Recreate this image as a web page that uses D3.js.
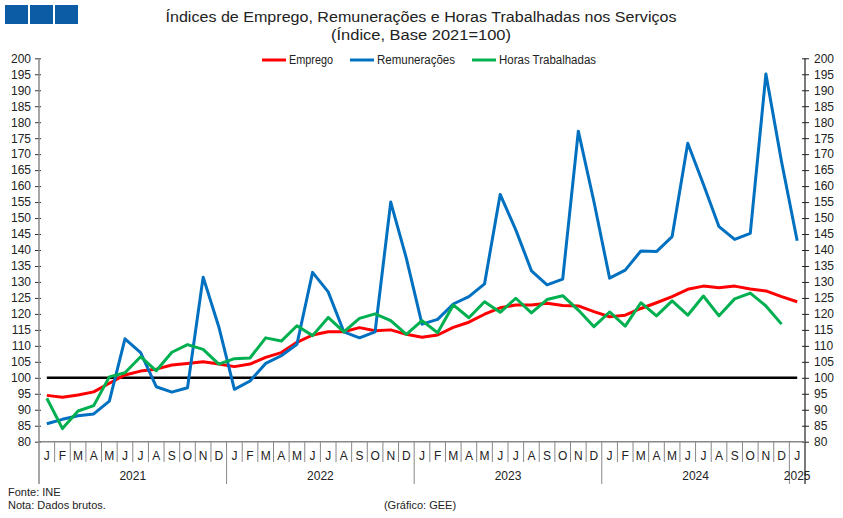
<!DOCTYPE html>
<html><head><meta charset="utf-8">
<script src="https://cdn.jsdelivr.net/npm/d3@7"></script>
<style>
body{margin:0;background:#fff;}
svg{display:block;font-family:"Liberation Sans",Arial,sans-serif;}
</style></head>
<body><svg id="c" width="843" height="518"></svg>
<script>
const monthLabels = ["J","F","M","A","M","J","J","A","S","O","N","D"];
const years = ["2021","2022","2023","2024","2025"];
const yTicks = d3.range(80, 201, 5);

const emprego = [94.5,93.9,94.6,95.6,98.3,100.9,102.1,102.7,104.0,104.5,105.0,104.3,
  103.5,104.3,106.4,107.9,111.1,113.4,114.4,114.4,115.7,114.7,115.0,113.6,
  112.7,113.4,115.8,117.4,119.9,121.9,122.8,122.8,123.3,122.6,122.5,120.7,
  119.1,119.6,121.7,123.5,125.4,127.7,128.7,128.2,128.7,127.8,127.2,125.4,
  123.8];
const remuneracoes = [85.6,87.0,88.1,88.7,92.7,112.2,107.9,97.2,95.5,96.9,131.5,116.0,
  96.4,99.0,104.5,106.9,110.5,133.0,126.9,114.4,112.5,114.4,155.0,137.4,
  116.8,118.3,123.1,125.4,129.4,157.4,146.3,133.5,129.1,130.9,177.2,155.1,
  131.2,133.7,139.7,139.5,144.2,173.4,160.6,147.3,143.3,145.2,195.1,167.6,
  142.9];
const horas = [93.6,84.1,89.6,91.3,100.3,101.6,106.6,102.2,108.0,110.4,108.9,104.3,
  106.0,106.2,112.5,111.5,116.3,113.2,118.9,114.4,118.6,120.0,117.9,113.6,
  117.9,114.1,122.8,118.8,123.8,120.5,124.9,120.3,124.5,125.7,121.2,116.0,
  120.6,116.2,123.5,119.4,124.1,119.6,125.6,119.4,124.7,126.5,122.5,116.8];

const series = [
  {name:"Emprego", values:emprego, color:"#ff0000"},
  {name:"Remunerações", values:remuneracoes, color:"#0070c0"},
  {name:"Horas Trabalhadas", values:horas, color:"#00b050"}
];

const nMonths = remuneracoes.length;
const svg = d3.select("#c");
const L = 39, R = 805, T = 58.3, B = 441.7;

const x = d3.scaleBand().domain(d3.range(nMonths)).range([L, R]).padding(0);
const y = d3.scaleLinear().domain([80, 200]).range([B, T]);
const cx = i => x(i) + x.bandwidth()/2;

// logo squares
svg.selectAll("rect.logo").data([0,1,2]).join("rect")
  .attr("x", d => 5 + d*25).attr("y", 5).attr("width", 23).attr("height", 19)
  .attr("fill", "#0b5ca5");

// title
svg.append("text").attr("x", 421).attr("y", 22).attr("text-anchor","middle")
  .attr("font-size", 15.5).attr("fill","#222")
  .attr("textLength", 511).attr("lengthAdjust","spacingAndGlyphs")
  .text("Índices de Emprego, Remunerações e Horas Trabalhadas nos Serviços");
svg.append("text").attr("x", 421).attr("y", 40).attr("text-anchor","middle")
  .attr("font-size", 15.5).attr("fill","#222")
  .attr("textLength", 180).attr("lengthAdjust","spacingAndGlyphs")
  .text("(Índice, Base 2021=100)");

// legend
const legX = [262, 350, 472];
const legW = [44, 78, 97];
const lg = svg.append("g");
series.forEach((s, k) => {
  lg.append("line").attr("x1", legX[k]).attr("x2", legX[k]+24).attr("y1", 60).attr("y2", 60)
    .attr("stroke", s.color).attr("stroke-width", 3);
  lg.append("text").attr("x", legX[k]+27).attr("y", 64).attr("font-size", 12).attr("fill","#222")
    .attr("textLength", legW[k]).attr("lengthAdjust","spacingAndGlyphs")
    .text(s.name);
});

// left axis
const gl = svg.append("g").attr("transform", `translate(${L},0)`)
  .call(d3.axisLeft(y).tickValues(yTicks).tickSize(4).tickPadding(4));
gl.select(".domain").remove();
gl.selectAll(".tick line").attr("x1", 2).attr("stroke","#333");
gl.selectAll(".tick text").attr("font-size", 12).attr("fill","#222")
  .attr("font-family",'"Liberation Sans",Arial,sans-serif');
svg.append("line").attr("x1", L).attr("x2", L).attr("y1", T).attr("y2", 484)
  .attr("stroke", "#888").attr("stroke-width", 1.5);

// right axis
const gr = svg.append("g").attr("transform", `translate(${R},0)`)
  .call(d3.axisRight(y).tickValues(yTicks).tickSize(4).tickPadding(5));
gr.select(".domain").remove();
gr.selectAll(".tick line").attr("x1", -3).attr("stroke","#222");
gr.selectAll(".tick text").attr("font-size", 12).attr("fill","#222")
  .attr("font-family",'"Liberation Sans",Arial,sans-serif');
svg.append("line").attr("x1", R).attr("x2", R).attr("y1", T).attr("y2", 484)
  .attr("stroke", "#222").attr("stroke-width", 1.2);

// bottom axis line
svg.append("line").attr("x1", L).attr("x2", R).attr("y1", B).attr("y2", B)
  .attr("stroke", "#888").attr("stroke-width", 1.5);

// month separators & labels
const months = d3.range(nMonths);
svg.selectAll("line.msep").data(months.slice(1)).join("line")
  .attr("x1", d => x(d)).attr("x2", d => x(d))
  .attr("y1", B).attr("y2", d => d % 12 === 0 ? 484 : 462)
  .attr("stroke", "#888").attr("stroke-width", 1);
svg.selectAll("text.mlab").data(months).join("text")
  .attr("x", d => cx(d)).attr("y", 460).attr("text-anchor","middle")
  .attr("font-size", 12).attr("fill","#222")
  .text(d => monthLabels[d % 12]);

// year labels
svg.selectAll("text.ylab").data(years).join("text")
  .attr("x", (d,k) => {
    const first = k*12, last = Math.min(k*12+11, nMonths-1);
    return (cx(first) + cx(last))/2;
  })
  .attr("y", 480).attr("text-anchor","middle").attr("font-size", 12).attr("fill","#222")
  .text(d => d);

// reference line at 100
svg.append("line").attr("x1", cx(0)).attr("x2", cx(nMonths-1))
  .attr("y1", y(100)).attr("y2", y(100)).attr("stroke", "#000").attr("stroke-width", 2.5);

// series lines
const line = d3.line().x((d,i) => cx(i)).y(d => y(d));
series.forEach(s => {
  svg.append("path").datum(s.values).attr("d", line)
    .attr("fill","none").attr("stroke", s.color).attr("stroke-width", 3)
    .attr("stroke-linejoin","round");
});

// footer
svg.append("text").attr("x", 8).attr("y", 496).attr("font-size", 11).attr("fill","#222").text("Fonte: INE");
svg.append("text").attr("x", 8).attr("y", 509).attr("font-size", 11).attr("fill","#222").text("Nota: Dados brutos.");
svg.append("text").attr("x", 420).attr("y", 509).attr("text-anchor","middle").attr("font-size", 11).attr("fill","#222").text("(Gráfico: GEE)");
</script></body></html>
